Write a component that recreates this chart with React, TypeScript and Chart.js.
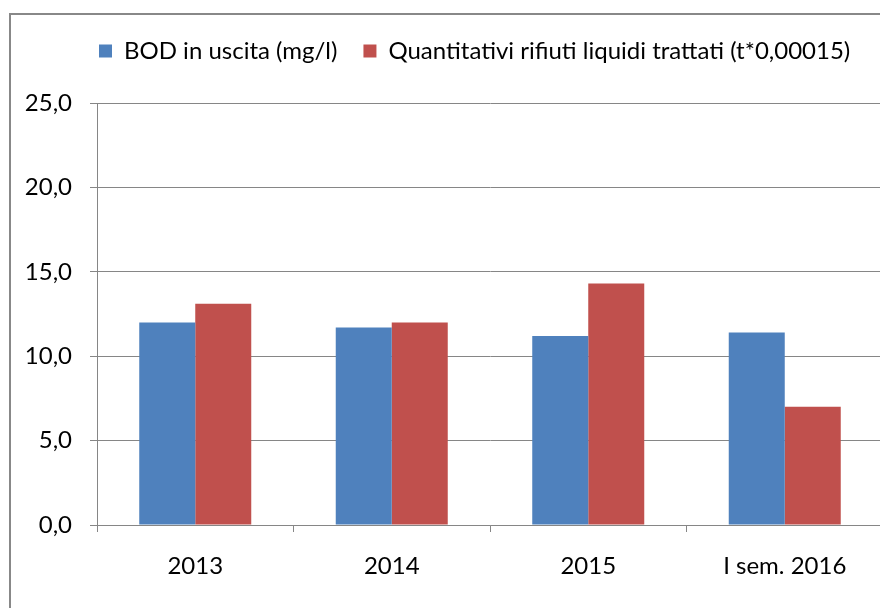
import React, { useEffect, useRef } from "react";
import { Chart, registerables } from "chart.js";

Chart.register(...registerables);

const categories = ["2013", "2014", "2015", "I sem. 2016"];
const bodValues = [12.0, 11.7, 11.2, 11.4];
const wasteValues = [13.1, 12.0, 14.3, 7.0];
const seriesNames = ["BOD in uscita (mg/l)", "Quantitativi rifiuti liquidi trattati (t*0,00015)"];
const yTickLabels = ["0,0", "5,0", "10,0", "15,0", "20,0", "25,0"];

const FONT = "Lato";
const GRID = "#868686";

const legendShift = {
  id: "legendShift",
  afterLayout(chart: any) {
    const lg = chart.legend;
    if (!lg) return;
    const dx = 73;
    const dy = -30;
    lg.left += dx;
    lg.right += dx;
    lg.top += dy;
    lg.bottom += dy;
  },
};

export default function App() {
  const ref = useRef<HTMLCanvasElement | null>(null);
  useEffect(() => {
    if (!ref.current) return;
    const chart = new Chart(ref.current, {
      type: "bar",
      data: {
        labels: categories,
        datasets: [
          { label: seriesNames[0], data: bodValues, backgroundColor: "#4F81BD", borderWidth: 0 },
          { label: seriesNames[1], data: wasteValues, backgroundColor: "#C0504D", borderWidth: 0 },
        ],
      },
      plugins: [legendShift],
      options: {
        responsive: false,
        animation: false,
        layout: { padding: { left: 0, top: 43, right: 0, bottom: 0 } },
        datasets: { bar: { categoryPercentage: 0.57, barPercentage: 1 } },
        plugins: {
          tooltip: { enabled: false },
          legend: {
            position: "top",
            align: "start",
            labels: {
              boxWidth: 13,
              boxHeight: 13,
              padding: 26,
              color: "#000",
              font: { family: FONT, size: 24 },
            },
          },
        },
        scales: {
          x: {
            afterFit: (s: any) => { s.height = 83; },
            grid: { display: true, drawOnChartArea: false, drawTicks: true, tickLength: 7, color: GRID, offset: true },
            border: { display: true, color: GRID },
            ticks: { color: "#000", font: { family: FONT, size: 24 }, padding: 20 },
          },
          y: {
            min: 0,
            max: 25,
            afterFit: (s: any) => { s.width = 97; },
            grid: { color: GRID, tickLength: 7, drawTicks: true },
            border: { display: true, color: GRID },
            ticks: {
              stepSize: 5,
              color: "#000",
              padding: 18,
              font: { family: FONT, size: 24 },
              callback: (_v: any, i: number) => yTickLabels[i],
            },
          },
        },
      },
    });
    return () => chart.destroy();
  }, []);
  return (
    <div style={{ position: "fixed", left: 0, top: 0, width: 880, height: 608, overflow: "hidden", background: "#fff" }}>
      <div style={{ position: "absolute", left: 9, top: 13, width: 900, height: 620, border: "2px solid #888", boxSizing: "border-box" }} />
      <canvas ref={ref} width={883} height={608} style={{ position: "absolute", left: 0, top: 0, display: "block" }} />
    </div>
  );
}
